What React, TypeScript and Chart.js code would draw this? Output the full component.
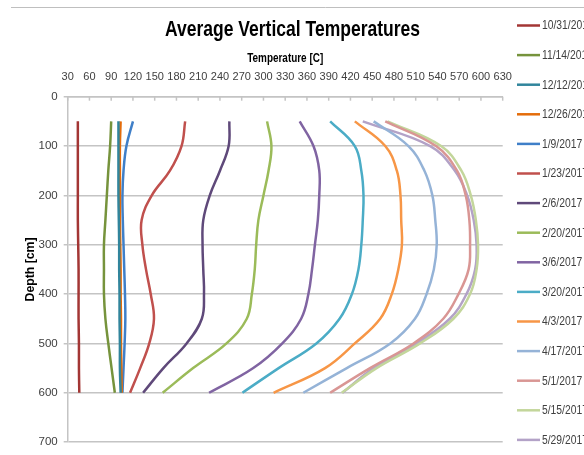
import React, { useEffect, useRef } from "react";
import { Chart, registerables } from "chart.js";

Chart.register(...registerables);

const FONT = '"Liberation Sans", Arial, sans-serif';

const title = "Average Vertical Temperatures";
const xTitle = "Temperature [C]";
const yTitle = "Depth [cm]";

const depths = [50, 100, 150, 200, 250, 300, 350, 400, 450, 500, 550, 600];

const seriesLabels = [
  "10/31/2016", "11/14/2016", "12/12/2016", "12/26/2016", "1/9/2017",
  "1/23/2017", "2/6/2017", "2/20/2017", "3/6/2017", "3/20/2017",
  "4/3/2017", "4/17/2017", "5/1/2017", "5/15/2017", "5/29/2017",
];

const s1031 = [44, 44, 44, 44, 44, 44.5, 45, 45, 45, 45.5, 45.5, 46];
const s1114 = [90, 88.5, 86, 84, 82, 80, 80, 80, 82, 86, 90.5, 95];
const s1212 = [100, 100, 100, 100, 100.5, 101, 101, 101.5, 101.5, 102, 102, 103];
const s1226 = [103, 102, 102, 102, 102, 102.5, 103, 103, 103.5, 103.5, 104, 104.5];
const s0109 = [120, 111, 107, 105.5, 106, 107, 108, 109, 109.5, 108.5, 107, 105.5];
const s0123 = [192, 187, 171, 146, 132, 133, 138, 144.5, 149, 142.5, 130, 116];
const s0206 = [253, 252, 240, 226, 217, 216, 217, 218, 215, 194, 162, 134];
const s0220 = [305, 311, 307, 300, 293, 290, 288, 284, 277, 249, 203, 161];
const s0306 = [350, 369, 377, 377, 375, 371, 367, 362, 352, 326, 286, 225];
const s0320 = [392, 426, 435, 438, 437, 435, 431, 422, 405, 373, 321, 271];
const s0403 = [426, 468, 484, 489, 490, 491, 486, 477, 461, 426, 385, 314];
const s0417 = [452, 500, 522, 533, 537, 539, 535, 525, 509, 475, 415, 355];
const s0501 = [468, 538, 567, 579, 584, 585, 583, 569, 548, 507, 447, 392];
const s0515 = [471, 545, 573, 586, 593, 596, 594, 585, 562, 516, 456, 408];
const s0529 = [437, 530, 564, 581, 590, 594, 592, 580, 557, 511, 452, 409];

const seriesValues = [
  s1031, s1114, s1212, s1226, s0109, s0123, s0206, s0220,
  s0306, s0320, s0403, s0417, s0501, s0515, s0529,
];

const seriesColors = [
  "#A33634", "#76933C", "#31859C", "#E46C0A", "#3F7FC8",
  "#C0504D", "#5F497A", "#9BBB59", "#8064A2", "#4BACC6",
  "#F79646", "#95B3D7", "#D99694", "#C3D69B", "#B3A2C7",
];

const W = 640;
const H = 455;
const GRID = "#C4C4C4";
const TEXT = "#404040";

function fitText(ctx: any, text: string, x: number, y: number, width: number) {
  const w = ctx.measureText(text).width;
  const sx = width / w;
  ctx.save();
  ctx.translate(x, y);
  ctx.scale(sx, 1);
  ctx.fillText(text, 0, 0);
  ctx.restore();
}

function squeezeText(ctx: any, text: string, x: number, y: number, sx: number) {
  ctx.save();
  ctx.translate(x, y);
  ctx.scale(sx, 1);
  ctx.fillText(text, 0, 0);
  ctx.restore();
}

const decorPlugin = {
  id: "decor",
  afterDraw(chart: any) {
    const ctx = chart.ctx;
    const area = chart.chartArea;
    ctx.save();
    ctx.strokeStyle = "#BFBFBF";
    ctx.lineWidth = 1;
    ctx.beginPath();
    ctx.moveTo(11, 7.5);
    ctx.lineTo(W, 7.5);
    ctx.stroke();

    const xs = chart.scales.x;
    ctx.strokeStyle = GRID;
    ctx.lineWidth = 1.5;
    xs.ticks.forEach((t: any) => {
      const px = xs.getPixelForValue(t.value);
      ctx.beginPath();
      ctx.moveTo(px, area.top);
      ctx.lineTo(px, area.top + 4);
      ctx.stroke();
    });

    ctx.fillStyle = "#000";
    ctx.textAlign = "center";
    ctx.textBaseline = "alphabetic";
    ctx.font = `bold 21.5px ${FONT}`;
    fitText(ctx, title, 292.5, 36, 255);
    ctx.font = `bold 12px ${FONT}`;
    fitText(ctx, xTitle, (area.left + area.right) / 2, 61.5, 76);
    ctx.save();
    ctx.translate(31, (area.top + area.bottom) / 2);
    ctx.rotate(-Math.PI / 2);
    ctx.textBaseline = "middle";
    ctx.font = `bold 12.5px ${FONT}`;
    fitText(ctx, yTitle, 0, 0, 64);
    ctx.restore();

    ctx.font = `12px ${FONT}`;
    ctx.textAlign = "left";
    ctx.textBaseline = "middle";
    chart.data.datasets.forEach((ds: any, i: number) => {
      const y = 25.5 + i * 29.6;
      ctx.strokeStyle = ds.borderColor;
      ctx.lineWidth = 2.5;
      ctx.beginPath();
      ctx.moveTo(517, y);
      ctx.lineTo(540, y);
      ctx.stroke();
      ctx.fillStyle = TEXT;
      squeezeText(ctx, ds.label, 542, y + 0.5, 0.86);
    });
    ctx.restore();
  },
};

export default function App() {
  const ref = useRef<HTMLCanvasElement | null>(null);
  useEffect(() => {
    if (!ref.current) return;
    const datasets = seriesLabels.map((label, i) => ({
      label,
      data: seriesValues[i].map((v, j) => ({ x: v, y: depths[j] })),
      borderColor: seriesColors[i],
      backgroundColor: seriesColors[i],
      borderWidth: 2.5,
      pointRadius: 0,
      tension: 0.4,
      fill: false,
    }));
    const chart = new Chart(ref.current, {
      type: "line",
      data: { datasets },
      plugins: [decorPlugin],
      options: {
        responsive: false,
        animation: false,
        indexAxis: "y",
        layout: { padding: { left: 0, right: W - 502.7, top: 0, bottom: H - 442.3 } },
        plugins: {
          legend: { display: false },
          title: { display: false },
          tooltip: { enabled: false },
        },
        scales: {
          x: {
            type: "linear",
            position: "top",
            min: 30,
            max: 630,
            ticks: {
              stepSize: 30,
              autoSkip: false,
              maxRotation: 0,
              padding: 5,
              color: TEXT,
              font: { family: FONT, size: 11 },
            },
            grid: { display: false },
            border: { display: true, color: GRID, width: 1.5 },
            afterFit: (s: any) => {
              s.height = 96.7;
            },
          },
          y: {
            type: "linear",
            reverse: true,
            min: 0,
            max: 700,
            ticks: {
              stepSize: 100,
              padding: 6,
              color: TEXT,
              font: { family: FONT, size: 11.5 },
            },
            grid: { color: GRID, lineWidth: 1.5, tickLength: 4, drawTicks: true },
            border: { display: true, color: GRID, width: 1.5 },
            afterFit: (s: any) => {
              s.width = 67.7;
            },
          },
        },
      } as any,
    });
    return () => chart.destroy();
  }, []);
  return (
    <div
      style={{
        position: "fixed",
        left: 0,
        top: 0,
        width: 584,
        height: 455,
        overflow: "hidden",
        background: "#fff",
      }}
    >
      <canvas ref={ref} width={W} height={H} style={{ display: "block", width: W, height: H }} />
    </div>
  );
}
